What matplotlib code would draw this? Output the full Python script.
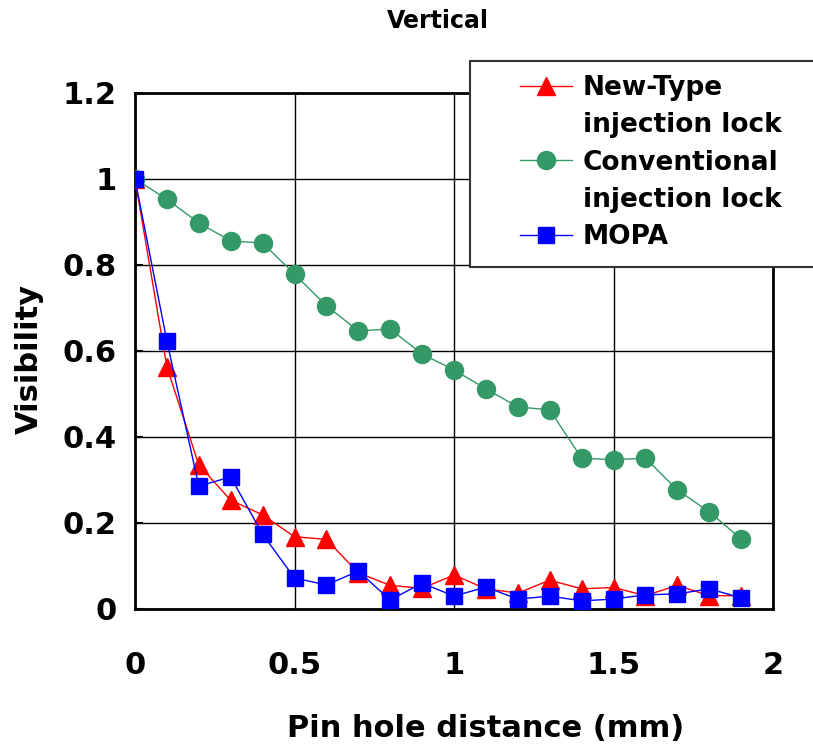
import matplotlib
matplotlib.use("Agg")
import matplotlib.pyplot as plt
from matplotlib.lines import Line2D
from matplotlib.patches import Rectangle

# ---- data ----
distance = [0.0, 0.1, 0.2, 0.3, 0.4, 0.5, 0.6, 0.7, 0.8, 0.9,
            1.0, 1.1, 1.2, 1.3, 1.4, 1.5, 1.6, 1.7, 1.8, 1.9]
new_type = [1.0, 0.563, 0.335, 0.253, 0.219, 0.168, 0.162, 0.084, 0.055, 0.048,
            0.079, 0.047, 0.037, 0.067, 0.047, 0.050, 0.031, 0.055, 0.031, 0.031]
conventional = [1.0, 0.953, 0.898, 0.856, 0.851, 0.779, 0.705, 0.647, 0.651, 0.593,
                0.556, 0.512, 0.470, 0.463, 0.351, 0.347, 0.351, 0.277, 0.226, 0.163]
mopa = [1.0, 0.623, 0.286, 0.307, 0.174, 0.072, 0.056, 0.088, 0.021, 0.060,
        0.030, 0.051, 0.023, 0.030, 0.019, 0.023, 0.033, 0.035, 0.047, 0.026]
xticks = [0, 0.5, 1, 1.5, 2]
xticklabels = ["0", "0.5", "1", "1.5", "2"]
yticks = [0, 0.2, 0.4, 0.6, 0.8, 1.0, 1.2]
yticklabels = ["0", "0.2", "0.4", "0.6", "0.8", "1", "1.2"]
series_labels = ["New-Type", "injection lock", "Conventional", "injection lock", "MOPA"]

RED = "#FF0000"
GREEN = "#339966"
BLUE = "#0000FF"

plt.rcParams["font.family"] = ["DejaVu Sans"]
plt.rcParams["font.weight"] = "bold"

W, H = 813, 748
fig = plt.figure(figsize=(W / 100, H / 100), dpi=100)
ax = fig.add_axes([135 / W, 1 - 609 / H, 638 / W, 516 / H])

ax.plot(distance, conventional, color=GREEN, lw=1.0, marker="o", ms=13, mec=GREEN, zorder=3)
ax.plot(distance, new_type, color=RED, lw=1.0, marker="^", ms=13, mec=RED, zorder=4)
ax.plot(distance, mopa, color=BLUE, lw=1.0, marker="s", ms=11.3, mec=BLUE, zorder=5)

ax.set_xlim(0, 2)
ax.set_ylim(0, 1.2)
ax.set_xticks(xticks)
ax.set_xticklabels(xticklabels)
ax.set_yticks(yticks)
ax.set_yticklabels(yticklabels)
ax.grid(True, color="black", lw=1.0)
ax.set_axisbelow(True)
for s in ax.spines.values():
    s.set_linewidth(2)
    s.set_color("black")
ax.tick_params(axis="x", length=0, pad=30, labelsize=22)
ax.tick_params(axis="y", direction="in", length=6, width=1.5, pad=13, labelsize=22)
for lab in ax.get_xticklabels() + ax.get_yticklabels():
    lab.set_fontweight("bold")

fig.text(486 / W, 1 - 737 / H, "Pin hole distance (mm)", ha="center", va="baseline",
         fontsize=22, fontweight="bold")
fig.text(29 / W, 1 - 359 / H, "Visibility", ha="center", va="center", rotation=90,
         fontsize=22, fontweight="bold")
fig.text(438 / W, 1 - 21 / H, "Vertical", ha="center", va="center", fontsize=17, fontweight="bold")

# legend frame
rect = Rectangle((470 / W, 1 - 267 / H), 400 / W, 206 / H, transform=fig.transFigure,
                 facecolor="white", edgecolor="#333333", lw=1.5, zorder=4)
fig.add_artist(rect)

handles = [
    Line2D([], [], color=RED, lw=1.0, marker="^", ms=13, mec=RED),
    Line2D([], [], color="none"),
    Line2D([], [], color=GREEN, lw=1.0, marker="o", ms=13, mec=GREEN),
    Line2D([], [], color="none"),
    Line2D([], [], color=BLUE, lw=1.0, marker="s", ms=11.3, mec=BLUE),
]
leg = fig.legend(handles, series_labels, loc="upper left", bbox_to_anchor=(520 / W, 1 - 75 / H),
                 frameon=False, borderpad=0, borderaxespad=0, handlelength=1.97,
                 handletextpad=0.42, labelspacing=0.43, prop={"size": 19, "weight": "bold"})
leg.set_zorder(5)

fig.savefig("out.png", dpi=100)
